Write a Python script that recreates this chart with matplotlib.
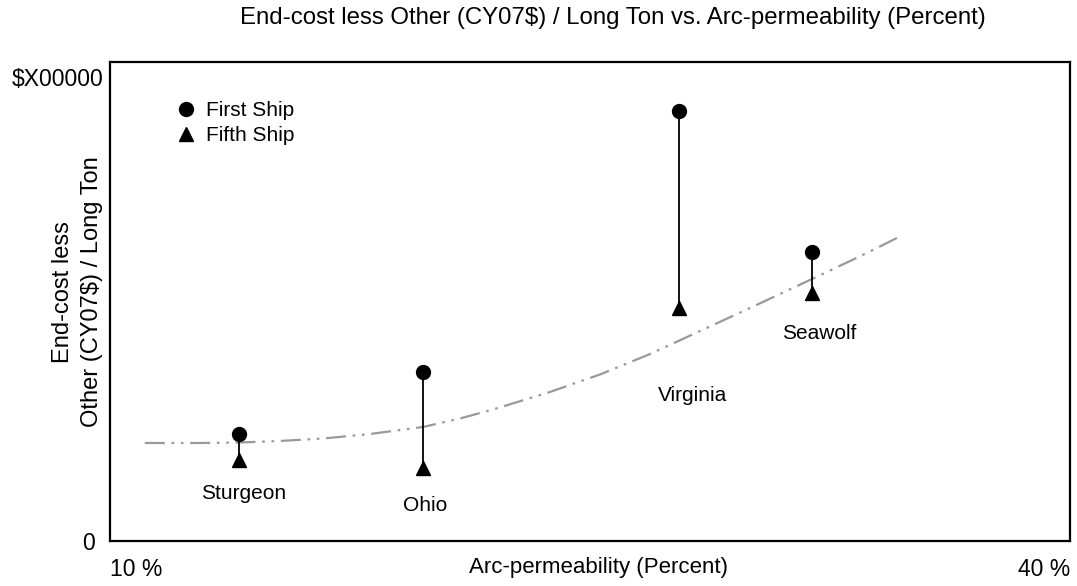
import matplotlib
matplotlib.use("Agg")
import matplotlib.pyplot as plt
from matplotlib.lines import Line2D
from matplotlib.transforms import ScaledTranslation

plt.rcParams['font.family'] = ['Liberation Sans', 'DejaVu Sans']

# ---- data ----
ships = ["Sturgeon", "Ohio", "Virginia", "Seawolf"]
arc_perm = [14.03, 19.78, 27.78, 31.94]          # percent
first_ship = [22.3, 35.3, 89.8, 60.3]            # relative cost units
fifth_ship = [16.9, 15.2, 48.6, 51.8]

trend_x = [11.09, 12.81, 14.03, 15.31, 16.66, 18.13, 19.78, 20.94, 22.13, 23.75,
           25.31, 26.88, 28.44, 30.00, 31.34, 31.94, 33.13, 33.84, 34.59]
trend_y = [20.46, 20.46, 20.56, 20.88, 21.40, 22.34, 23.80, 25.57, 27.77, 31.11,
           34.76, 39.04, 43.84, 48.64, 52.82, 54.70, 58.46, 60.75, 63.26]

x_ticks = [10, 40]
x_ticklabels = ["10 %", "40 %"]
y_ticks = [0, 96.9]
y_ticklabels = ["0", "$X00000"]

fig = plt.figure(figsize=(10.77, 5.86), dpi=100)
ax = fig.add_axes([0.1021, 0.0768, 0.8914, 0.8174])

FS = 15
TFS = 16.5

# trend line
ax.plot(trend_x, trend_y, color="#999999", lw=1.6,
        dashes=[9, 3, 1.2, 3, 1.2, 3], zorder=1)

# vertical connectors
for xv, a, b in zip(arc_perm, first_ship, fifth_ship):
    ax.plot([xv, xv], [a, b], color="black", lw=1.3, zorder=2)

ax.plot(arc_perm, first_ship, linestyle="none", marker="o", markersize=10,
        color="black", zorder=3, label="First Ship")
ax.plot(arc_perm, fifth_ship, linestyle="none", marker="^", markersize=10,
        color="black", zorder=3, label="Fifth Ship")

# ship labels
label_pos = [(14.19, 10.0), (19.84, 7.5), (28.22, 30.3), (32.16, 43.4)]
for name, (lx, ly) in zip(ships, label_pos):
    ax.text(lx, ly, name, ha="center", va="center", fontsize=FS)

ax.set_xlim(10, 40)
ax.set_ylim(0, 100)

ax.set_xticks(x_ticks)
ax.set_xticklabels(x_ticklabels, fontsize=TFS)
xl = ax.get_xticklabels()
xl[0].set_ha("left")
xl[1].set_ha("right")
ax.set_yticks(y_ticks)
ax.set_yticklabels(y_ticklabels, fontsize=TFS)
ax.tick_params(axis="x", length=0, pad=12)
ax.tick_params(axis="y", length=0, pad=5)
yl = ax.get_yticklabels()
yl[0].set_transform(yl[0].get_transform() + ScaledTranslation(-0.08, 0, fig.dpi_scale_trans))

for s in ax.spines.values():
    s.set_linewidth(1.6)

handles = [Line2D([], [], linestyle="none", marker="o", markersize=10, color="black"),
           Line2D([], [], linestyle="none", marker="^", markersize=10, color="black")]
leg = ax.legend(handles, ["First Ship", "Fifth Ship"], loc="upper left",
                bbox_to_anchor=(0.058, 0.94), frameon=False, fontsize=FS,
                handlelength=1.0, handletextpad=0.45, labelspacing=0.3, borderpad=0)

fig.text(0.569, 0.969, "End-cost less Other (CY07$) / Long Ton vs. Arc-permeability (Percent)",
         ha="center", va="center", fontsize=17.3)
fig.text(0.556, 1 - 567 / 586, "Arc-permeability (Percent)", ha="center", va="center", fontsize=16)
fig.text(0.072, 0.502, "End-cost less\nOther (CY07$) / Long Ton", ha="center", va="center",
         rotation=90, fontsize=17, linespacing=1.4)

fig.savefig("out.png", dpi=100)
